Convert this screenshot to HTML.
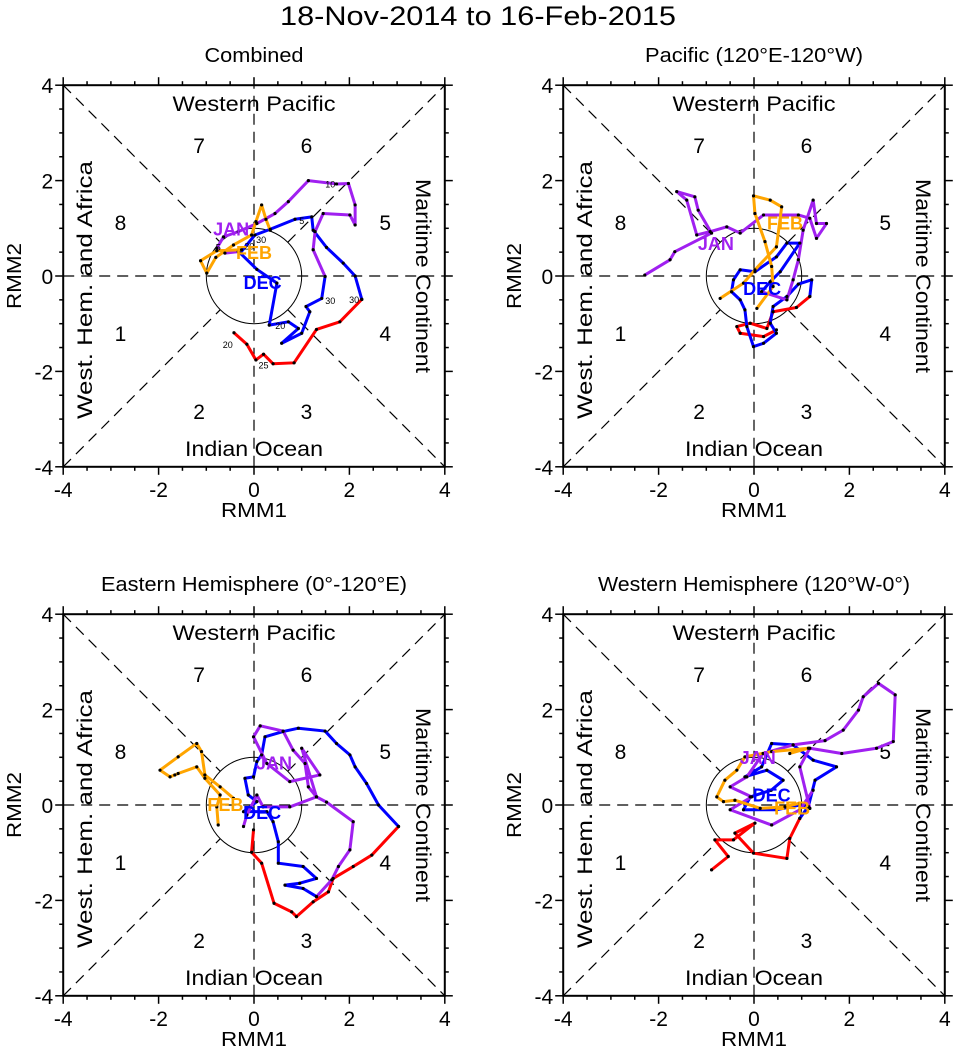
<!DOCTYPE html>
<html><head><meta charset="utf-8"><style>
html,body{margin:0;padding:0;background:#fff;}
svg{display:block;font-family:"Liberation Sans",sans-serif;}
</style></head><body>
<svg id="chart" width="956" height="1057" viewBox="0 0 956 1057" xmlns="http://www.w3.org/2000/svg">
<text x="478" y="25" font-size="27" text-anchor="middle" textLength="396" lengthAdjust="spacingAndGlyphs">18-Nov-2014 to 16-Feb-2015</text>
</svg>
<script>
// ---- data (RMM1, RMM2 values) ----
const panelTitles = ["Combined", "Pacific (120°E-120°W)", "Eastern Hemisphere (0°-120°E)", "Western Hemisphere (120°W-0°)"];
const titleWidths = [99, 218, 306, 312];
const axisTicks = [-4, -2, 0, 2, 4];

const p1NovX = [-0.42,-0.15,0.04,0.20,0.40,0.84,1.31,1.80,2.26];
const p1NovY = [-1.19,-1.43,-1.76,-1.64,-1.84,-1.82,-1.12,-0.96,-0.49];
const p1DecX = [2.26,2.12,1.87,1.52,1.24,1.21,0.86,0.34,0.02,-0.29,0.06,0.48,0.32,0.72,0.93,0.58,1.00,1.17,1.09,1.42,1.49];
const p1DecY = [-0.49,0,0.27,0.60,0.96,1.24,1.19,0.98,0.86,0.48,0.14,-0.15,-1.03,-0.96,-1.10,-1.41,-1.20,-0.75,-0.64,-0.47,-0.01];
const p1JanX = [1.49,1.24,1.28,1.45,2.01,2.12,2.12,1.98,1.73,1.14,0.72,0.44,0.06,-0.33,-0.64,-0.78,-0.61,-0.33];
const p1JanY = [-0.01,0.55,0.93,1.31,1.28,1.07,1.49,1.94,1.93,2.00,1.56,1.31,1.10,0.93,0.82,0.58,0.48,0.51];
const p1FebX = [-0.26,-0.78,-1.12,-0.99,-0.80,-0.43,-0.05,0.04,0.16,0.25,0.34];
const p1FebY = [0.55,0.53,0.32,0.06,0.39,0.65,0.86,1.14,1.49,1.19,0.96];

const p2NovX = [0.47,0.20,-0.29,-0.36,-0.08,0.27,0.40,0.89,1.17];
const p2NovY = [-1.13,-1.27,-1.20,-1.06,-0.99,-1.10,-0.75,-0.66,-0.43];
const p2DecX = [1.17,1.21,0.93,0.69,0.40,0.34,0.47,0.20,-0.01,-0.15,-0.19,-0.29,-0.47,-0.43,-0.29,0.02,0.47,0.69,0.96,0.55,0.34,0.16];
const p2DecY = [-0.43,-0.08,-0.17,-0.43,-0.64,-0.99,-1.20,-1.41,-1.48,-1.06,-0.71,-0.50,-0.33,-0.08,0.13,0.09,0.40,0.69,0.69,0.09,-0.12,-0.33];
const p2JanX = [0.16,0.69,0.82,0.93,1.03,1.24,1.31,1.52,1.31,1.17,0.93,0.20,-0.29,-0.57,-0.92,-1.20,-1.41,-1.62,-1.24,-1.17,-0.89,-1.66,-1.76,-2.29];
const p2JanY = [-0.33,-0.50,-0.08,0.34,0.96,1.59,1.10,1.10,0.79,1.21,1.28,1.28,0.90,1.03,0.93,0.86,1.59,1.77,1.66,1.38,0.90,0.51,0.34,0.02];
const p2FebX = [-0.71,-0.22,0.02,0.47,0.58,0.34,-0.01,0.02,0.23,0.37,0.40,0.06];
const p2FebY = [-0.47,-0.15,0.13,0.61,1.45,1.59,1.68,1.31,0.72,0.20,-0.22,-0.68];

const p3NovX = [-0.01,-0.05,0.16,0.42,0.79,0.89,1.24,1.56,1.66,2.08,2.47,3.03];
const p3NovY = [-0.52,-0.99,-1.22,-2.06,-2.24,-2.34,-2.03,-1.82,-1.54,-1.29,-1.05,-0.45];
const p3DecX = [3.03,2.61,2.36,2.12,2.01,1.73,1.49,0.93,0.61,0.23,0.16,0.06,-0.01,-0.19,-0.12,0.06,-0.22,0.27,0.40,0.51,0.51,1.03,1.31,0.96,0.65,1.03,1.31];
const p3DecY = [-0.45,0,0.45,0.80,1.05,1.29,1.55,1.61,1.54,1.43,1.05,0.91,0.59,0.56,0.21,0.07,-0.14,-0.14,-0.35,-0.77,-1.22,-1.29,-1.54,-1.64,-1.68,-1.75,-1.92];
const p3JanX = [1.31,1.63,1.77,2.01,2.08,1.52,1.31,1.14,1.07,0.82,0.61,0.13,-0.01,0.27,0.75,1.38,1.00,1.31,0.75,0.19,0.06,-0.15,-0.22];
const p3JanY = [-1.92,-1.57,-1.29,-0.94,-0.35,0.06,0.17,0.38,0.87,1.15,1.55,1.66,1.43,0.87,0.49,0.63,1.19,0.17,-0.04,-0.04,0.21,-0.21,-0.45];
const p3FebX = [-0.43,-0.71,-1.03,-1.10,-1.20,-1.59,-1.97,-1.76,-1.66,-1.59,-1.20,-1.03,-0.71,-0.78,-0.75];
const p3FebY = [0.14,0.38,0.63,1.12,1.29,1.01,0.73,0.59,0.63,0.66,0.80,0.56,0.21,-0.04,-0.42];

const p4NovX = [-0.89,-0.54,-0.82,-0.43,0.02,-0.40,-0.01,0.69,0.75,0.96];
const p4NovY = [-1.36,-1.08,-0.73,-0.73,-0.38,-0.59,-1.01,-1.12,-0.70,-0.28];
const p4DecX = [0.96,1.14,1.28,1.73,1.24,0.82,0.37,0.16,-0.19,0.27,0.61,0.36,-0.08,-0.22,0.47,0.96,1.17];
const p4DecY = [-0.28,-0.03,0.52,0.80,0.94,1.26,1.29,0.80,0.59,0.73,0.52,0.31,0.17,-0.10,-0.10,0,-0.07];
const p4JanX = [1.17,0.96,1.17,1.84,2.57,2.92,2.96,2.61,2.29,2.19,1.87,1.49,0.82,0.19,-0.15,-0.50,-0.05,-0.50,0.37,0.96,1.24];
const p4JanY = [-0.07,0.80,1.19,1.08,1.19,1.33,2.31,2.55,2.27,1.99,1.57,1.35,1.26,1.08,0.59,0.38,0.17,-0.10,-0.42,-0.10,0.31];
const p4FebX = [0.75,1.14,0.37,-0.19,-0.36,-0.61,-0.78,-0.64,-0.40,0.13,0.65,0.96];
const p4FebY = [1.08,1.19,1.12,1.01,0.73,0.52,0.17,0.07,0.10,-0.07,-0.04,0.04];

const monthLabels = ["DEC","JAN","FEB"];
const p1Lab = [[0.18,-0.15],[-0.48,0.98],[0.0,0.48]];
const p2Lab = [[0.17,-0.27],[-0.8,0.67],[0.65,1.1]];
const p3Lab = [[0.17,-0.17],[0.42,0.87],[-0.6,0.0]];
const p4Lab = [[0.37,0.2],[0.08,0.99],[0.8,-0.07]];

const dayLabelsP1 = [["20",-0.55,-1.45],["25",0.2,-1.88],["30",2.1,-0.5],["5",1.0,1.15],["10",1.6,1.92],["20",0.55,-1.05],["30",1.6,-0.52],["5",-0.75,0.6],["20",-0.1,0.62],["30",0.15,0.75]];

const panels = [
  {cx:254, cy:276, data:[[p1NovX,p1NovY],[p1DecX,p1DecY],[p1JanX,p1JanY],[p1FebX,p1FebY]], lab:p1Lab},
  {cx:754, cy:276, data:[[p2NovX,p2NovY],[p2DecX,p2DecY],[p2JanX,p2JanY],[p2FebX,p2FebY]], lab:p2Lab},
  {cx:254, cy:805, data:[[p3NovX,p3NovY],[p3DecX,p3DecY],[p3JanX,p3JanY],[p3FebX,p3FebY]], lab:p3Lab},
  {cx:754, cy:805, data:[[p4NovX,p4NovY],[p4DecX,p4DecY],[p4JanX,p4JanY],[p4FebX,p4FebY]], lab:p4Lab}
];
const seriesColors = ["#ff0000","#0000ff","#a020f0","#ffa500"];
const seriesNames = ["november-track","december-track","january-track","february-track"];
const S = 47.7;
const NS = "http://www.w3.org/2000/svg";
const svg = document.getElementById('chart');
function mk(tag, attrs, parent){
  const e = document.createElementNS(NS, tag);
  for (const k in attrs) e.setAttribute(k, attrs[k]);
  (parent||svg).appendChild(e);
  return e;
}
panels.forEach((p, pi) => {
  const g = mk('g', {});
  
  
  const X = v => p.cx + v*S, Y = v => p.cy - v*S;
  const L = X(-4), R = X(4), T = Y(4), B = Y(-4);
  const t = mk('text', {x:p.cx, y:T-23, 'font-size':20, 'text-anchor':'middle', textLength:titleWidths[pi], lengthAdjust:'spacingAndGlyphs'}, g);
  t.textContent = panelTitles[pi];
  
  
  const dash = {stroke:'#000','stroke-width':1.2,'stroke-dasharray':'11,7',fill:'none'};
  [[-4,0,4,0],[0,-4,0,4]].forEach(a=>{
    const l = mk('line', Object.assign({x1:X(a[0]),y1:Y(a[1]),x2:X(a[2]),y2:Y(a[3])},dash), g);
    
    
  });
  const c = Math.SQRT1_2;
  [[-4,-4,-c,-c],[c,c,4,4],[-4,4,-c,c],[c,-c,4,-4]].forEach(a=>{
    const l = mk('line', Object.assign({x1:X(a[0]),y1:Y(a[1]),x2:X(a[2]),y2:Y(a[3])},dash), g);
    
    
  });
  const circ = mk('circle', {cx:p.cx, cy:p.cy, r:S, fill:'none', stroke:'#000','stroke-width':1}, g);
  
  
  for (let v=-4; v<=4.001; v+=0.5){
    const major = Math.abs(v%2) < 1e-6;
    const len = major ? 8 : 4;
    mk('line',{x1:X(v),y1:B,x2:X(v),y2:B+len,stroke:'#000','stroke-width':1.5},g);
    mk('line',{x1:X(v),y1:T,x2:X(v),y2:T-len,stroke:'#000','stroke-width':1.5},g);
    mk('line',{x1:L,y1:Y(v),x2:L-len,y2:Y(v),stroke:'#000','stroke-width':1.5},g);
    mk('line',{x1:R,y1:Y(v),x2:R+len,y2:Y(v),stroke:'#000','stroke-width':1.5},g);
  }
  axisTicks.forEach(v=>{
    const tx = mk('text',{x:X(v),y:B+30,'font-size':21,'text-anchor':'middle'},g);
    tx.textContent = v;
    
    
    const ty = mk('text',{x:L-10,y:Y(v)+8,'font-size':21,'text-anchor':'end'},g);
    ty.textContent = v;
    
    
  });
  const box = mk('rect',{x:L,y:T,width:R-L,height:B-T,fill:'none',stroke:'#000','stroke-width':2},g);
  
  
  const xl = mk('text',{x:p.cx,y:B+50,'font-size':20,'text-anchor':'middle',textLength:66,lengthAdjust:'spacingAndGlyphs'},g);
  xl.textContent = 'RMM1';
  
  
  const yl = mk('text',{x:0,y:0,'font-size':20,'text-anchor':'middle',textLength:66,lengthAdjust:'spacingAndGlyphs',transform:`translate(${L-42},${p.cy}) rotate(-90)`},g);
  yl.textContent = 'RMM2';
  
  
  const wp = mk('text',{x:p.cx,y:T+26,'font-size':21,'text-anchor':'middle',textLength:163,lengthAdjust:'spacingAndGlyphs'},g);
  wp.textContent='Western Pacific';
  
  
  const io = mk('text',{x:p.cx,y:B-11,'font-size':21,'text-anchor':'middle',textLength:138,lengthAdjust:'spacingAndGlyphs'},g);
  io.textContent='Indian Ocean';
  
  
  const wh = mk('text',{x:0,y:0,'font-size':21,'text-anchor':'middle',textLength:258,lengthAdjust:'spacingAndGlyphs',transform:`translate(${L+29},${p.cy+14}) rotate(-90)`},g);
  wh.textContent='West. Hem. and Africa';
  
  
  const mc = mk('text',{x:0,y:0,'font-size':21,'text-anchor':'middle',textLength:194,lengthAdjust:'spacingAndGlyphs',transform:`translate(${R-29},${p.cy}) rotate(90)`},g);
  mc.textContent='Maritime Continent';
  
  
  const ph = [["7",-1.15,2.75],["6",1.1,2.75],["8",-2.8,1.13],["5",2.75,1.13],["1",-2.8,-1.2],["4",2.75,-1.2],["2",-1.15,-2.83],["3",1.1,-2.83]];
  ph.forEach(q=>{
    const n = mk('text',{x:X(q[1]),y:Y(q[2])+8,'font-size':21,'text-anchor':'middle'},g);
    n.textContent=q[0];
    
    
  });
  p.data.forEach((s, si)=>{
    const pts = s[0].map((x,i)=>X(x)+','+Y(s[1][i])).join(' ');
    const pl = mk('polyline',{points:pts,fill:'none',stroke:seriesColors[si],'stroke-width':3,'stroke-linejoin':'round'},g);
    
    
  });
  p.data.forEach((s, si)=>{
    s[0].forEach((x,i)=>{
      const d = mk('circle',{cx:X(x),cy:Y(s[1][i]),r:1.6,fill:'#000'},g);
      
      
    });
  });
  if (pi===0){
    dayLabelsP1.forEach(q=>{
      const dl = mk('text',{x:X(q[1]),y:Y(q[2])+3,'font-size':9,'text-anchor':'middle'},g);
      dl.textContent=q[0];
      
      
    });
  }
  monthLabels.forEach((m, mi)=>{
    const ml = mk('text',{x:X(p.lab[mi][0]),y:Y(p.lab[mi][1])+6,'font-size':18,'font-weight':'bold','text-anchor':'middle',fill:seriesColors[mi+1]},g);
    ml.textContent=m;
    
    
  });
});
</script>
</body></html>
